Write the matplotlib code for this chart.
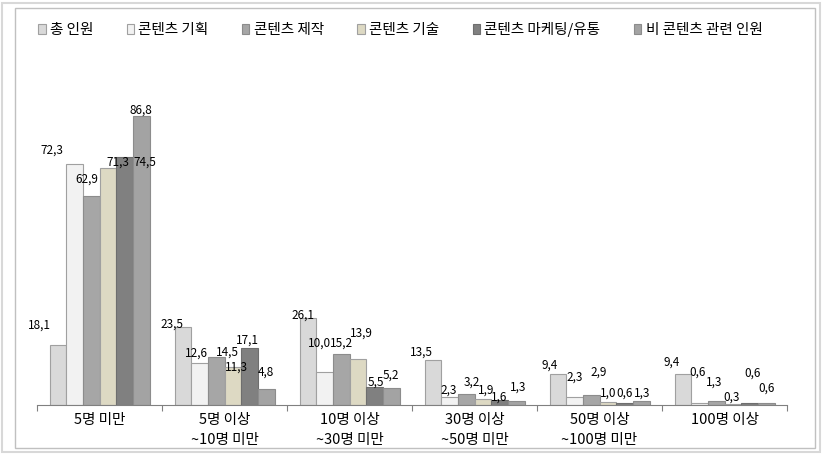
import matplotlib
matplotlib.use("Agg")
from matplotlib import pyplot as plt
from matplotlib.patches import Rectangle
import numpy as np

plt.rcParams['font.family'] = ['Noto Sans CJK KR', 'DejaVu Sans']

# categories (company size) and series
groups = ["5명 미만", "5명 이상\n~10명 미만", "10명 이상\n~30명 미만",
          "30명 이상\n~50명 미만", "50명 이상\n~100명 미만", "100명 이상"]
series_names = ["총 인원", "콘텐츠 기획", "콘텐츠 제작", "콘텐츠 기술",
                "콘텐츠 마케팅/유통", "비 콘텐츠 관련 인원"]

total = [18.1, 23.5, 26.1, 13.5, 9.4, 9.4]
planning = [72.3, 12.6, 10.0, 2.3, 2.3, 0.6]
production = [62.9, 14.5, 15.2, 3.2, 2.9, 1.3]
technology = [71.3, 11.3, 13.9, 1.9, 1.0, 0.3]
marketing = [74.5, 17.1, 5.5, 1.6, 0.6, 0.6]
non_content = [86.8, 4.8, 5.2, 1.3, 1.3, 0.6]

values = [total, planning, production, technology, marketing, non_content]
colors = ["#d9d9d9", "#f2f2f2", "#a6a6a6", "#ddd9c3", "#808080", "#a3a3a3"]
edges = ["#a0a0a0", "#a0a0a0", "#8c8c8c", "#a0a0a0", "#6e6e6e", "#8c8c8c"]

# label nudges in pixels (dx, dy) to mimic the original's label placement
label_shift = [
    [(-18, 20), (-11, 3), (-5, 3), (-11, 8), (-8, 9), (-11, 12)],
    [(-23, 14), (-3, 10), (-5, 29), (-1, 7), (0, 20), (-2, 31)],
    [(-4, 16), (11, 5), (0, 11), (6, 12), (8, 23), (-2, 19)],
    [(10, 5), (4, 0), (4, 26), (3, 9), (0, 9), (-1, 7)],
    [(20, -5), (-2, 8), (1, 5), (0, 3), (0, 10), (3, 30)],
    [(0, 6), (0, 17), (0, 13), (2, 14), (1, 8), (0, 15)],
]

fig = plt.figure(figsize=(8.22, 4.54), dpi=100)
fig.patch.set_facecolor("white")
fig.add_artist(Rectangle((2 / 822, 2 / 454), 818 / 822, 449 / 454, transform=fig.transFigure,
                         fill=False, edgecolor="#d8d8d8", lw=1.5))
fig.add_artist(Rectangle((15 / 822, 6 / 454), 800 / 822, 440 / 454, transform=fig.transFigure,
                         fill=False, edgecolor="#c0c0c0", lw=1))

ax = fig.add_axes([37 / 822, 49 / 454, 750 / 822, 333 / 454])
x = np.arange(len(groups))
w = 1 / 7.5
for i in range(len(values)):
    pos = x + (i - 2.5) * w
    ax.bar(pos, values[i], width=w, color=colors[i], edgecolor=edges[i], linewidth=0.8,
           label=series_names[i])
    for j in range(len(groups)):
        dx, dy = label_shift[i][j]
        ax.annotate(f"{values[i][j]:.1f}".replace(".", ","), (pos[j], values[i][j]),
                    xytext=(dx, dy), textcoords="offset pixels", ha="center", va="center",
                    fontsize=8.5, color="black")

ax.set_xlim(-0.5, len(groups) - 0.5)
ax.set_ylim(0, 100)
ax.set_xticks(np.arange(len(groups) + 1) - 0.5)
ax.set_xticklabels([])
ax.tick_params(axis="x", length=4, width=0.8, color="#808080", direction="out")
ax.set_xticks(x, minor=True)
ax.set_xticklabels(groups, minor=True, fontsize=10.5, linespacing=1.5)
ax.tick_params(axis="x", which="minor", length=0, pad=6)
ax.set_yticks([])
for s in ["top", "right", "left"]:
    ax.spines[s].set_visible(False)
ax.spines["bottom"].set_color("#808080")

leg = fig.legend(loc="upper center", bbox_to_anchor=(0.487, 0.98), ncol=6, frameon=False,
                 fontsize=10.5, handlelength=0.5, handleheight=0.75, handletextpad=0.3,
                 columnspacing=2.3)

fig.savefig("out.png", dpi=100)
